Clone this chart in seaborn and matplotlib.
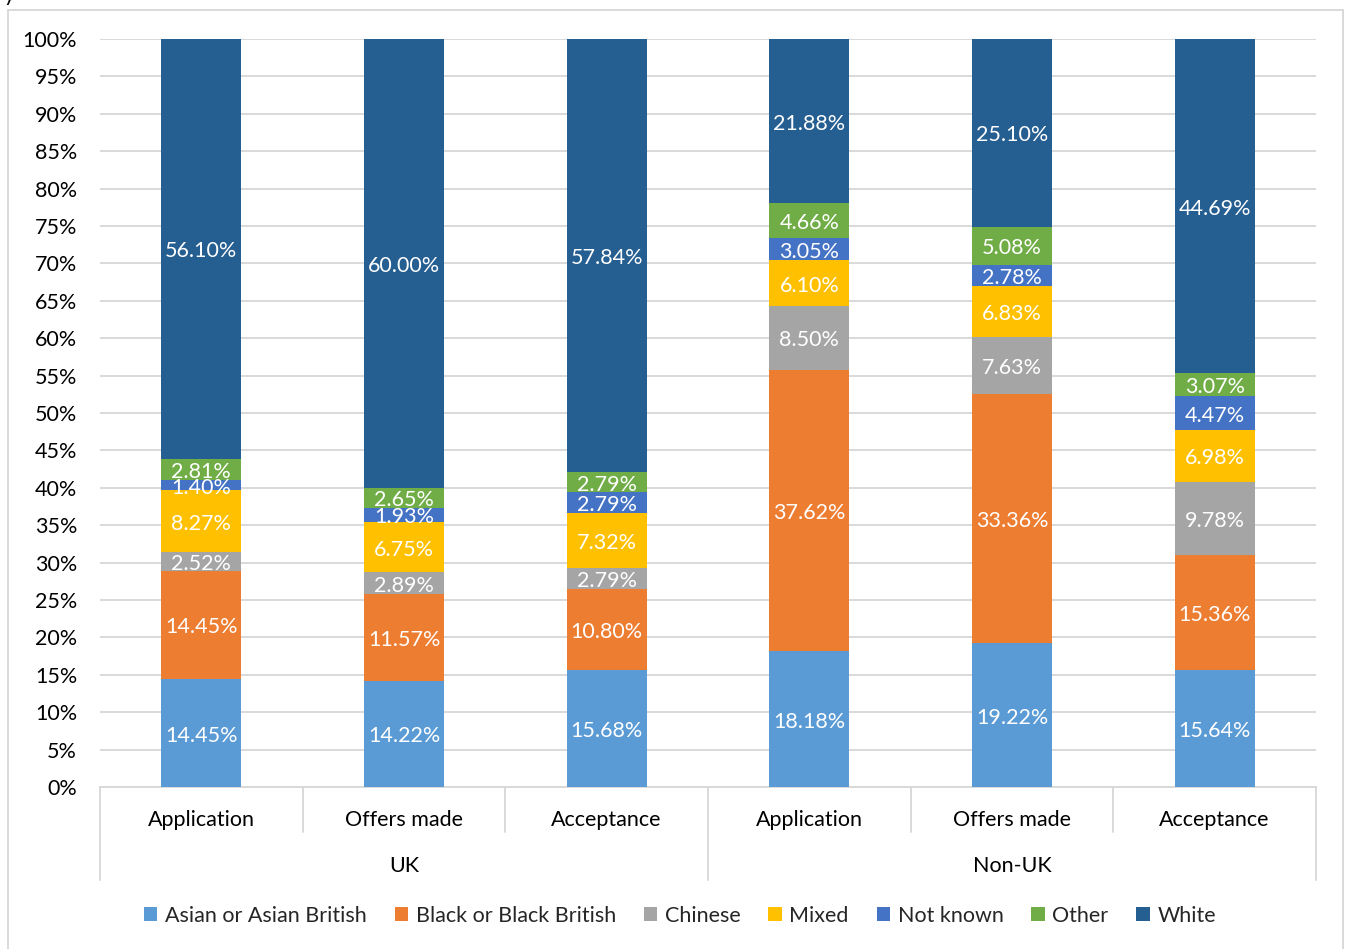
import matplotlib
matplotlib.use("Agg")
import matplotlib.pyplot as plt
from matplotlib.lines import Line2D
from matplotlib.patches import Patch
import matplotlib.transforms as mtransforms
import numpy as np
import pandas as pd
import seaborn as sns

# Data: percentage share of each ethnic group per admission stage
groups = ["UK", "Non-UK"]
stages = ["Application", "Offers made", "Acceptance"]
ethnicities = ["Asian or Asian British", "Black or Black British", "Chinese",
               "Mixed", "Not known", "Other", "White"]

asian = [14.45, 14.22, 15.68, 18.18, 19.22, 15.64]
black = [14.45, 11.57, 10.80, 37.62, 33.36, 15.36]
chinese = [2.52, 2.89, 2.79, 8.50, 7.63, 9.78]
mixed = [8.27, 6.75, 7.32, 6.10, 6.83, 6.98]
not_known = [1.40, 1.93, 2.79, 3.05, 2.78, 4.47]
other = [2.81, 2.65, 2.79, 4.66, 5.08, 3.07]
white = [56.10, 60.00, 57.84, 21.88, 25.10, 44.69]

series = [asian, black, chinese, mixed, not_known, other, white]
colors = ["#5B9BD5", "#ED7D31", "#A5A5A5", "#FFC000", "#4472C4", "#70AD47", "#255E91"]

bar_ids = [f"{g}|{s}" for g in groups for s in stages]

sns.set_theme(style="white")
FONT = ["Lato", "DejaVu Sans"]
plt.rcParams["font.family"] = FONT
FS = 15.5

W, H = 1346, 949
fig = plt.figure(figsize=(W / 100, H / 100), dpi=100)
ax = fig.add_axes([100 / W, 1 - 787 / H, (1316 - 100) / W, (787 - 39) / H])

bottom = np.zeros(len(bar_ids))
for name, vals, col in zip(ethnicities, series, colors):
    df = pd.DataFrame({"bar": bar_ids, "pct": vals})
    sns.barplot(data=df, x="bar", y="pct", order=bar_ids, color=col,
                width=0.395, errorbar=None, bottom=bottom.copy(),
                saturation=1, ax=ax, zorder=3, linewidth=0)
    for i, v in enumerate(vals):
        ax.text(i, bottom[i] + v / 2 - 0.35, f"{v:.2f}%", ha="center", va="center",
                color="white", fontsize=FS, zorder=5)
    bottom += np.array(vals)

ax.set_xlim(-0.5, len(bar_ids) - 0.5)
ax.set_ylim(0, 100)
ax.set_yticks(np.arange(0, 101, 5))
ax.set_yticklabels([f"{t}%" for t in range(0, 101, 5)], fontsize=FS, color="#000000")
ax.tick_params(axis="y", length=0, pad=16.5)
ax.yaxis.grid(True, color="#D9D9D9", linewidth=1.4, zorder=0)
ax.set_axisbelow(True)
ax.set_xlabel("")
ax.set_ylabel("")
for side in ["left", "right", "top"]:
    ax.spines[side].set_visible(False)
ax.spines["bottom"].set_color("#D9D9D9")
ax.spines["bottom"].set_linewidth(1.4)

# Two-level category axis
ax.set_xticks(range(len(bar_ids)))
ax.set_xticklabels([""] * len(bar_ids))
ax.tick_params(axis="x", length=0)
trans = mtransforms.blended_transform_factory(ax.transData, ax.transAxes)
ah = 787 - 39
for i, bid in enumerate(bar_ids):
    ax.text(i, -(33 / ah), bid.split("|")[1], transform=trans, ha="center",
            va="center", fontsize=FS, color="#000000")
for gi, g in enumerate(groups):
    ax.text(gi * 3 + 1, -(79 / ah), g, transform=trans, ha="center",
            va="center", fontsize=FS, color="#000000")
for b in np.arange(-0.5, len(bar_ids), 1):
    long_line = (b + 0.5) % 3 == 0
    yend = -(93 / ah) if long_line else -(45 / ah)
    ax.add_line(Line2D([b, b], [0, yend], transform=trans, color="#D9D9D9",
                       linewidth=1.4, clip_on=False))

# Legend
handles = [Patch(facecolor=c, edgecolor="none") for c in colors]
fig.legend(handles, ethnicities, loc="center", bbox_to_anchor=(680 / W, 1 - 916 / H),
           ncol=7, frameon=False, fontsize=FS, handlelength=0.62, handleheight=0.62,
           handletextpad=0.35, columnspacing=1.3)

# Chart area border
border = dict(color="#D9D9D9", linewidth=1.4, transform=fig.transFigure)
fig.add_artist(Line2D([8 / W, 8 / W], [0, 1 - 10 / H], **border))
fig.add_artist(Line2D([1343 / W, 1343 / W], [0, 1 - 10 / H], **border))
fig.add_artist(Line2D([8 / W, 1343 / W], [1 - 10 / H, 1 - 10 / H], **border))

# Title line above the chart, mostly outside the image
fig.text(4 / W, 1 - 1 / H, "y", ha="left", va="baseline", fontsize=FS, color="#000000")

fig.savefig("out.png", dpi=100)
